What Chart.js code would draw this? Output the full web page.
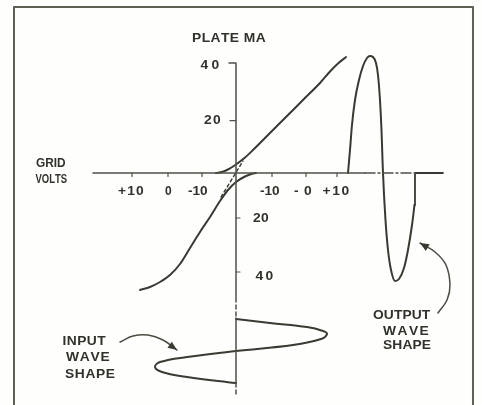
<!DOCTYPE html>
<html><head><meta charset="utf-8">
<script src="https://cdn.jsdelivr.net/npm/chart.js@4/dist/chart.umd.min.js"></script>
<style>html,body{margin:0;padding:0;background:#fefefd;}#wrap{width:482px;height:405px;position:relative;}</style>
</head><body><div id="wrap"><canvas id="c"></canvas></div>
<script>
// Diagram units: x = grid volts from the bias point, y = plate mA (lower part: time axis of the input wave)
const transferUpper = [[-5.71,0],[-4.0,0.37],[-2.29,1.30],[0,3.15],[2.57,5.74],[4.86,8.52],[9.71,14.81],[14.57,21.11],[19.14,27.04],[24,33.33],[26.86,37.59],[29.14,40.56],[31.43,42.96]];
const transferLower = [[-27.43,-43.33],[-24.57,-42.22],[-21.71,-40.37],[-18.86,-37.78],[-16.0,-33.70],[-13.14,-27.78],[-10.29,-21.85],[-7.43,-16.30],[-4.57,-10.37],[-2.29,-6.30],[0,-3.33],[2.57,-1.30],[4.57,-0.26],[5.71,0]];
const loadLine = [[-4.29,-8.89],[2.0,4.44]];
const outputWave = [[32.0,0],[32.57,8.52],[33.14,17.78],[34.0,27.04],[35.14,34.44],[36.29,39.63],[37.43,42.59],[38.29,43.33],[39.14,42.96],[40.0,40.74],[40.57,36.30],[41.14,27.04],[41.57,15.93],[41.86,4.81],[42.0,0],[42.29,-8.15],[42.71,-17.41],[43.43,-28.52],[44.29,-35.93],[45.43,-40.0],[46.57,-39.26],[48.0,-35.19],[49.14,-28.52],[50.29,-19.26],[51.0,-11.85]];
const outputTail = [[51.0,-11.85],[51.14,-11.0],[51.14,0],[59.14,0]];
const inputWave = [[0,-54.07],[9.71,-55.56],[20.29,-57.04],[24.86,-58.52],[26.0,-59.63],[24.29,-61.48],[16.29,-63.70],[0,-65.93],[-14.0,-68.15],[-21.71,-70.0],[-23.14,-71.85],[-21.14,-73.70],[-14.0,-75.56],[0,-77.78]];
const arrowIn = [[-33.14,-62.59],[-29.43,-60.37],[-25.14,-60.0],[-20.86,-61.85],[-16.86,-65.56]];
const arrowOut = [[57.71,-51.85],[60.29,-47.04],[61.14,-41.48],[60.0,-34.07],[56.86,-29.26],[52.57,-25.93]];

// axes
const gridAxis = [[-40.86,0],[36.86,0]];
const gridAxisDashed = [[36.86,0],[51.14,0]];
const plateAxis = [[-2.0,40.74],[0,40.74],[0,-47.78]];
const timeAxis = [[0,-53.7],[0,-77.78]];
const timeAxisDashed = [[0,-48.89],[0,-53.7],[0,null],[0,-77.78],[0,-81.85]];
const frame = [[-63.43,-85.93],[-63.43,61.48],[67.71,61.48],[67.71,-85.93]];

// tick marks
const xTickValues = [-29.71,-19.43,-9.71,10.29,20.0,28.86];
const xTickLabels = ['+10','0','-10','-10','-0','+10'];
const xTickLabelX = [-30.0,-19.29,-10.86,9.71,19.14,28.57];
const yTickValues = [40,19.4,-16.67,-36.67];
const yTickLabels = ['40','20','20','40'];
const yTickLabelX = [-7.43,-6.71,7.14,8.14];
const yTickLabelY = [39.81,19.44,-17.04,-38.33];

// text labels
const labelTexts = ['PLATE MA','GRID','VOLTS','INPUT','WAVE','SHAPE','OUTPUT','WAVE','SHAPE'];
const labelX = [-2.14,-52.86,-52.86,-43.29,-42.57,-41.71,47.43,48.29,48.86];
const labelY = [49.81,3.33,-2.59,-62.59,-68.52,-74.63,-52.96,-58.89,-64.07];
const labelW = [73,30,31,44,42,50,58,44,48];
const xTickLabelW = [26,7,20,20,18,27];
const yTickLabelW = [19,17,16,18];

const pts = a => a.map(([x,y]) => ({x, y}));
const tickSegs = [];
xTickValues.forEach(v => { tickSegs.push([v,0],[v,-1.3],[v,null]); });
[[yTickValues[1],-1.71,0],[yTickValues[2],0,1.14],[yTickValues[3],0,1.14]].forEach(([v,a,b]) => { tickSegs.push([a,v],[b,v],[b,null]); });

const INK = '#383b31', AX = '#4f5246';
const ds = (data, o) => Object.assign({data: pts(data), showLine: true, fill: false, pointRadius: 0, borderColor: INK, borderWidth: 2, tension: 0, spanGaps: false, clip: false}, o || {});

const bgPlugin = {id:'bg', beforeDraw(c){ const x=c.ctx; x.save(); x.fillStyle='#fefefd'; x.fillRect(0,0,c.width,c.height); x.restore(); }};

function drawFit(ctx, text, px, py, w){
  const chars = [...text];
  const mm = chars.map(ch => ctx.measureText(ch));
  const full = ctx.measureText(text);
  const ink = full.actualBoundingBoxLeft + full.actualBoundingBoxRight;
  let k = Math.min(1.15, w / ink);
  let s = 0;
  if (chars.length > 1 && w > ink * k) s = (w - ink * k) / (chars.length - 1);
  let x = px - w / 2 + full.actualBoundingBoxLeft * k;
  chars.forEach((ch, i) => {
    ctx.save(); ctx.translate(x, py); ctx.scale(k, 1); ctx.fillText(ch, 0, 0); ctx.restore();
    x += mm[i].width * k + s;
  });
}

const textPlugin = {id:'txt', afterDatasetsDraw(c){
  const ctx = c.ctx, sx = c.scales.x, sy = c.scales.y;
  const P = (u,v) => [sx.getPixelForValue(u), sy.getPixelForValue(v)];
  ctx.save();
  ctx.fillStyle = INK;
  [arrowIn, arrowOut].forEach(a => {
    const [tx,ty] = P(...a[a.length-1]);
    const [bx,by] = P(...a[a.length-2]);
    const ang = Math.atan2(ty-by, tx-bx), L = 9, H = 3.8;
    ctx.beginPath();
    ctx.moveTo(tx, ty);
    ctx.lineTo(tx - L*Math.cos(ang) + H*Math.sin(ang), ty - L*Math.sin(ang) - H*Math.cos(ang));
    ctx.lineTo(tx - L*Math.cos(ang) - H*Math.sin(ang), ty - L*Math.sin(ang) + H*Math.cos(ang));
    ctx.closePath(); ctx.fill();
  });
  ctx.fillStyle = '#30332a';
  ctx.font = 'bold 12px "Liberation Sans", Arial, sans-serif';
  ctx.textBaseline = 'middle'; ctx.textAlign = 'left';
  labelTexts.forEach((t,i) => { const [x,y] = P(labelX[i], labelY[i]); drawFit(ctx, t, x, y, labelW[i]); });
  xTickLabels.forEach((t,i) => { const [x,y] = P(xTickLabelX[i], -7.04); drawFit(ctx, t, x, y, xTickLabelW[i]); });
  yTickLabels.forEach((t,i) => { const [x,y] = P(yTickLabelX[i], yTickLabelY[i]); drawFit(ctx, t, x, y, yTickLabelW[i]); });
  ctx.restore();
}};

new Chart(document.getElementById('c'), {
  type: 'scatter',
  data: { datasets: [
    ds(frame, {borderColor:'#5d6053', borderWidth:2}),
    ds(gridAxis, {borderColor:AX, borderWidth:1.5}),
    ds(gridAxisDashed, {borderColor:AX, borderWidth:1.5, borderDash:[10,3,2,3]}),
    ds(plateAxis, {borderColor:AX, borderWidth:1.5}),
    ds(timeAxis, {borderColor:AX, borderWidth:1.5}),
    ds(timeAxisDashed, {borderColor:AX, borderWidth:1.5, borderDash:[4,3]}),
    ds(tickSegs, {borderColor:AX, borderWidth:1.2}),
    ds(transferUpper, {cubicInterpolationMode:'monotone'}),
    ds(transferLower, {cubicInterpolationMode:'monotone'}),
    ds(loadLine, {borderWidth:1.4, borderDash:[3,3]}),
    ds(outputWave, {cubicInterpolationMode:'monotone'}),
    ds(outputTail, {borderWidth:1.8}),
    ds(inputWave, {tension:0.4}),
    ds(arrowIn, {tension:0.4, borderWidth:1.5, borderColor:'#4a4d40'}),
    ds(arrowOut, {tension:0.4, borderWidth:1.5, borderColor:'#4a4d40'})
  ]},
  options: {
    responsive: true, maintainAspectRatio: false, animation: false, events: [],
    layout: {padding: 0},
    plugins: {legend: {display: false}, tooltip: {enabled: false}},
    scales: {
      x: {type: 'linear', display: false, min: -236/3.5, max: 246/3.5},
      y: {type: 'linear', display: false, min: -232/2.7, max: 173/2.7}
    },
    elements: {line: {borderCapStyle: 'round', borderJoinStyle: 'round'}}
  },
  plugins: [bgPlugin, textPlugin]
});
</script>
</body></html>
